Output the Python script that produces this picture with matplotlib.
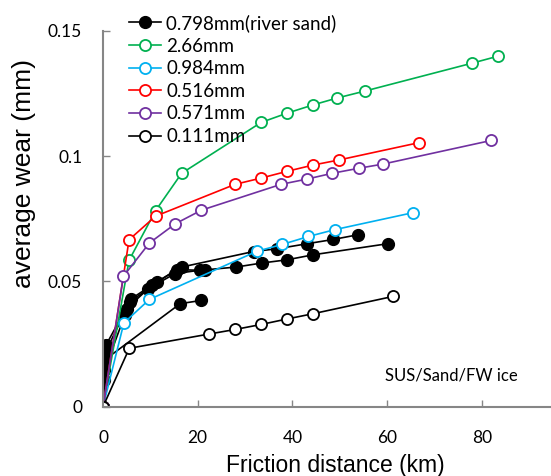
import matplotlib
matplotlib.use('Agg')
import matplotlib.pyplot as plt
from matplotlib.lines import Line2D

plt.rcParams['font.family'] = 'Lato'

# river sand (0.798mm), several runs drawn in the same style
sand_a_x = [0, 0.3, 16.3, 20.8]
sand_a_y = [0, 0.0186, 0.0411, 0.0424]
sand_b_x = [0, 0.5, 5.0, 10.3, 15.6, 20.5, 28.1, 33.5, 38.9, 44.4, 60.1]
sand_b_y = [0, 0.0218, 0.0391, 0.0484, 0.0547, 0.0544, 0.0557, 0.0573, 0.0586, 0.0606, 0.0650]
sand_c_x = [0, 0.6, 6.0, 11.3, 16.6, 31.8, 36.8, 43.1, 48.6, 53.9]
sand_c_y = [0, 0.0245, 0.0431, 0.0497, 0.0557, 0.0619, 0.0630, 0.0650, 0.0667, 0.0686]
sand_d_x = [0, 0.2, 0.3, 4.6, 5.7, 9.6, 15.2, 21.5]
sand_d_y = [0, 0.0106, 0.0146, 0.0365, 0.0418, 0.0471, 0.0531, 0.0547]

g266_x = [0, 5.5, 11.1, 16.6, 33.4, 38.9, 44.4, 49.4, 55.3, 77.9, 83.4]
g266_y = [0, 0.0584, 0.0782, 0.0931, 0.1134, 0.1171, 0.1204, 0.1231, 0.1259, 0.1370, 0.1398]

g984_x = [0, 4.4, 9.8, 32.5, 37.8, 43.4, 48.9, 65.5]
g984_y = [0, 0.0334, 0.0428, 0.0620, 0.0647, 0.0679, 0.0706, 0.0774]

g516_x = [0, 5.5, 11.1, 27.9, 33.4, 38.9, 44.4, 49.8, 66.7]
g516_y = [0, 0.0666, 0.0760, 0.0887, 0.0912, 0.0939, 0.0964, 0.0984, 0.1053]

g571_x = [0, 4.3, 9.8, 15.3, 20.8, 37.6, 43.1, 48.4, 54.0, 59.2, 82.0]
g571_y = [0, 0.0520, 0.0653, 0.0730, 0.0784, 0.0887, 0.0908, 0.0931, 0.0951, 0.0968, 0.1062]

g111_x = [0, 5.55, 22.45, 27.9, 33.4, 38.9, 44.4, 61.3]
g111_y = [0, 0.0233, 0.0290, 0.0308, 0.0328, 0.0350, 0.0371, 0.0440]

labels = ['0.798mm(river sand)', '2.66mm', '0.984mm', '0.516mm', '0.571mm', '0.111mm']
colors = ['black', '#00B050', '#00B0F0', '#FF0000', '#7030A0', 'black']

lw = 1.2
ms = 8
mew = 1.3

fig = plt.figure(figsize=(5.51, 4.76), dpi=100)
ax = fig.add_axes([0.187, 0.1456, 0.811, 0.79])

handles = []
for sx, sy in [(sand_a_x, sand_a_y), (sand_b_x, sand_b_y), (sand_c_x, sand_c_y), (sand_d_x, sand_d_y)]:
    ax.plot(sx, sy, color='black', lw=lw, marker='o', ms=8.5, mfc='black', mec='black')
handles.append(Line2D([], [], color='black', lw=lw, marker='o', ms=8.5, mfc='black', mec='black'))

series = [(g266_x, g266_y), (g984_x, g984_y), (g516_x, g516_y), (g571_x, g571_y), (g111_x, g111_y)]
for (sx, sy), c in zip(series, colors[1:]):
    ln, = ax.plot(sx, sy, color=c, lw=lw, marker='o', ms=ms, mfc='white', mec=c, mew=mew)
    handles.append(ln)

ax.set_xlim(0, 94.4)
ax.set_ylim(0, 0.15)
ax.set_xticks([0, 20, 40, 60, 80])
ax.set_yticks([0, 0.05, 0.1, 0.15])
ax.set_yticklabels(['0', '0.05', '0.1', '0.15'])

for s in ['top', 'right']:
    ax.spines[s].set_visible(False)
for s in ['left', 'bottom']:
    ax.spines[s].set_color('#868686')
    ax.spines[s].set_linewidth(1.5)
ax.tick_params(direction='in', length=5, width=1, color='#868686', labelsize=12.5)
ax.tick_params(axis='x', pad=17)
ax.tick_params(axis='y', pad=15)

ax.set_xlabel('Friction distance (km)', fontsize=16.5, family='Liberation Sans')
ax.xaxis.set_label_coords(0.52, -0.125)
ax.set_ylabel('average wear (mm)', fontsize=19, family='Liberation Sans')
ax.yaxis.set_label_coords(-0.15, 0.619)

ax.text(0.63, 0.07, 'SUS/Sand/FW ice', transform=ax.transAxes, fontsize=12)

leg = fig.legend(handles, labels, loc='upper left', bbox_to_anchor=(0.208, 1.0),
                 frameon=False, fontsize=13.5, handlelength=1.75, handletextpad=0.25,
                 labelspacing=0.3, borderpad=0.25)

fig.savefig('out.png', dpi=100)
